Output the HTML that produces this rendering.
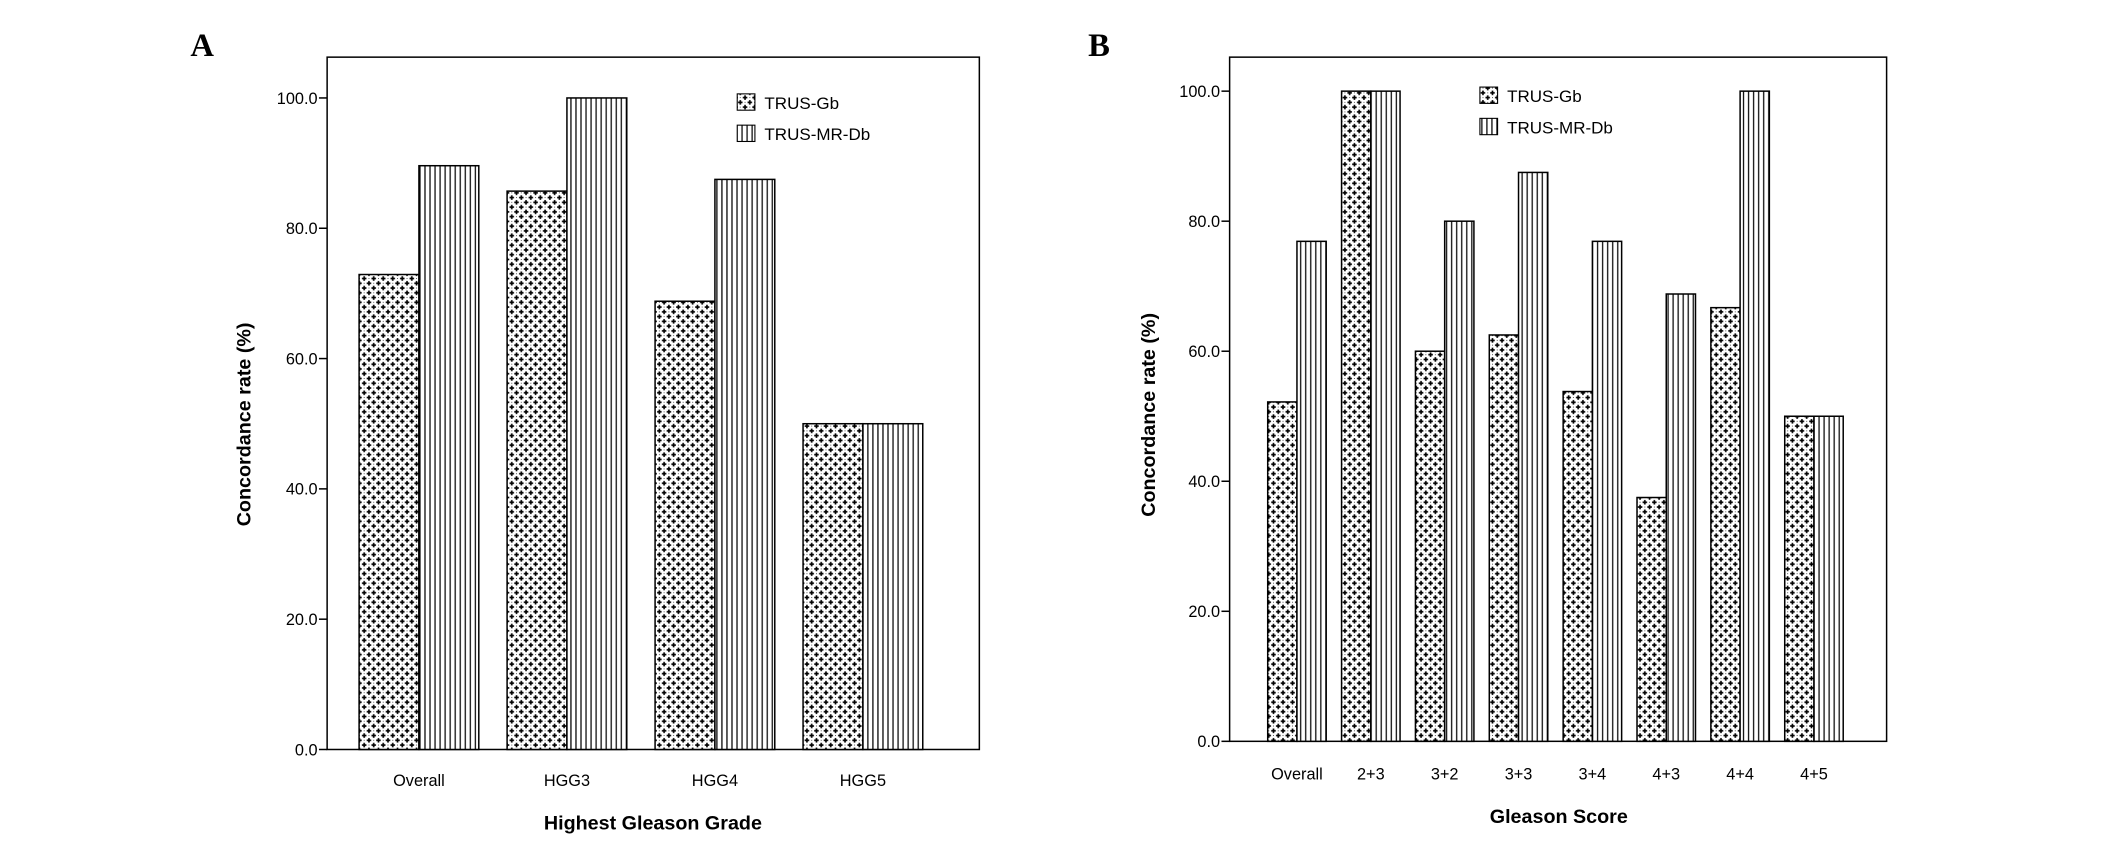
<!DOCTYPE html>
<html><head><meta charset="utf-8"><style>
html,body{margin:0;padding:0;background:#fff;}
svg{display:block;font-family:"Liberation Sans",Arial,sans-serif;}
</style></head><body>
<svg id="chart" width="2126" height="842" viewBox="0 0 1563 619">
<defs>
<pattern id="pPlus" patternUnits="userSpaceOnUse" width="7" height="7">
<rect width="7" height="7" fill="#fff"/>
<path d="M1.75 0.1V3.4M0.1 1.75H3.4M5.25 3.6V6.9M3.6 5.25H6.9" stroke="#000" stroke-width="1.2"/>
<rect x="4.9" y="1.4" width="0.7" height="0.7" fill="#555"/><rect x="1.4" y="4.9" width="0.7" height="0.7" fill="#555"/>
</pattern>
<pattern id="pVert" patternUnits="userSpaceOnUse" width="3.7" height="10">
<rect width="3.7" height="10" fill="#fff"/>
<rect x="1.2" width="0.9" height="10" fill="#000"/>
</pattern>
</defs>
</svg>
<script>
const catsA = ["Overall","HGG3","HGG4","HGG5"];
const gbA = [72.9, 85.7, 68.8, 50.0];
const dbA = [89.6, 100.0, 87.5, 50.0];
const catsB = ["Overall","2+3","3+2","3+3","3+4","4+3","4+4","4+5"];
const gbB = [52.2, 100.0, 60.0, 62.5, 53.8, 37.5, 66.7, 50.0];
const dbB = [76.9, 100.0, 80.0, 87.5, 76.9, 68.8, 100.0, 50.0];
const ticks = [0,20,40,60,80,100];
const seriesNames = ["TRUS-Gb","TRUS-MR-Db"];

const NS="http://www.w3.org/2000/svg";
const svg=document.getElementById('chart');
function mk(tag,attrs,parent,txt){const e=document.createElementNS(NS,tag);for(const k in attrs)e.setAttribute(k,attrs[k]);if(txt!==undefined)e.textContent=txt;(parent||svg).appendChild(e);return e;}

function panel(cfg){
  const g=mk('g',{});
  
  
  const y=v=>cfg.y0-(cfg.y0-cfg.y100)*v/100;
  const fr=mk('rect',{x:cfg.left,y:cfg.top,width:cfg.right-cfg.left,height:cfg.y0-cfg.top,fill:'none',stroke:'#000','stroke-width':1.1},g);
  
  
  ticks.forEach(t=>{
    const l=mk('line',{x1:cfg.left-6,x2:cfg.left,y1:y(t),y2:y(t),stroke:'#000','stroke-width':1.1},g);
    
    
    const tx=mk('text',{x:cfg.left-7,y:y(t)+4.3,'text-anchor':'end','font-size':12},g,t.toFixed(1));
    
    
  });
  cfg.cats.forEach((c,i)=>{
    const cx=cfg.c0+i*cfg.step;
    [[cfg.gb,'url(#pPlus)',-1],[cfg.db,'url(#pVert)',0]].forEach(([arr,fill,off],si)=>{
      const v=arr[i];
      const r=mk('rect',{x:cx+off*cfg.bw,y:y(v),width:cfg.bw,height:cfg.y0-y(v),fill:fill,stroke:'#000','stroke-width':1.1},g);
      
      
    });
    const lb=mk('text',{x:cx,y:cfg.labY,'text-anchor':'middle','font-size':12},g,c);
    
    
  });
  const xt=mk('text',{x:cfg.xtX,y:cfg.xtY,'text-anchor':'middle','font-size':14.5,'font-weight':'bold'},g,cfg.xtitle);
  
  
  const yt=mk('text',{x:0,y:0,'text-anchor':'middle','font-size':14.5,'font-weight':'bold',transform:`translate(${cfg.ytX},${cfg.ytY}) rotate(-90)`},g,'Concordance rate (%)');
  
  
  seriesNames.forEach((n,k)=>{
    const ly=cfg.legY+k*23;
    const b=mk('rect',{x:cfg.legX,y:ly,width:13,height:12,fill:k?'url(#pVert)':'url(#pPlus)',stroke:'#000','stroke-width':0.8},g);
    
    
    const t=mk('text',{x:cfg.legX+20,y:ly+11,'font-size':12.5},g,n);
    
    
  });
  const L=mk('text',{x:cfg.lx,y:41,'font-size':24,'font-weight':'bold','font-family':'"Liberation Serif",serif'},g,cfg.id);
  
  
}
panel({id:'A',cats:catsA,gb:gbA,db:dbA,left:240.5,right:720,top:42,y0:551,y100:72,c0:308,step:108.8,bw:44,labY:578,xtitle:'Highest Gleason Grade',xtX:480,xtY:610,ytX:184,ytY:312,legX:542,legY:69,lx:140});
panel({id:'B',cats:catsB,gb:gbB,db:dbB,left:904,right:1387,top:42,y0:545,y100:67,c0:953.5,step:54.3,bw:21.5,labY:573,xtitle:'Gleason Score',xtX:1146,xtY:605,ytX:849,ytY:305,legX:1088,legY:64,lx:800});
</script>
</body></html>
